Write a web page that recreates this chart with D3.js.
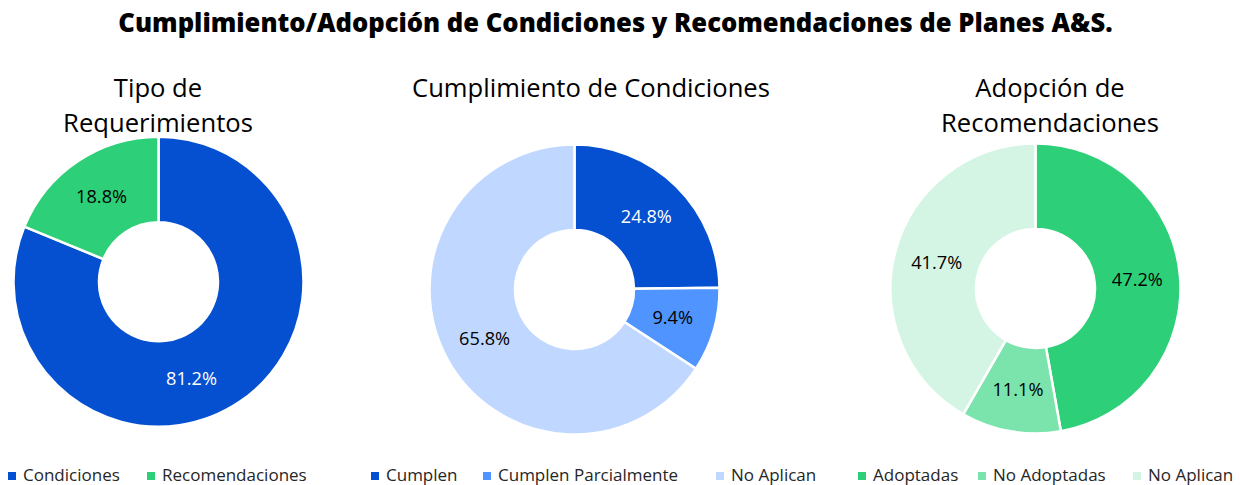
<!DOCTYPE html>
<html>
<head>
<meta charset="utf-8">
<script src="https://cdn.jsdelivr.net/npm/d3@7"></script>
<style>
  body { margin: 0; background: #fff; }
  svg { display: block; font-family: "Open Sans", "Noto Sans", sans-serif; }
</style>
</head>
<body>
<div id="chart"></div>
<script>
// ---- data ----
const mainTitle = "Cumplimiento/Adopción de Condiciones y Recomendaciones de Planes A&S.";

const tipoLabels = ["Condiciones", "Recomendaciones"];
const tipoValues = [81.2, 18.8];

const cumpLabels = ["Cumplen", "Cumplen Parcialmente", "No Aplican"];
const cumpValues = [24.8, 9.4, 65.8];

const adopLabels = ["Adoptadas", "No Adoptadas", "No Aplican"];
const adopValues = [47.2, 11.1, 41.7];

const W = 1240, H = 485;

const svg = d3.select("#chart").append("svg")
    .attr("width", W).attr("height", H);

// font size that makes a text as wide as in the reference
function fitSize(str, width, base, weight) {
    const t = svg.append("text").attr("font-size", base)
        .attr("font-weight", weight || 400).text(str);
    const len = t.node().getComputedTextLength();
    t.remove();
    return base * width / len;
}

svg.append("text")
    .attr("x", (118 + 1113) / 2).attr("y", 32)
    .attr("text-anchor", "middle")
    .attr("font-size", fitSize(mainTitle, 995, 22, 800))
    .attr("font-weight", 800)
    .attr("fill", "#000")
    .text(mainTitle);

const titleSize = fitSize("Cumplimiento de Condiciones", 358, 26);
const labelSize = fitSize("18.8%", 51, 17);
const legendSize = 17;

const panels = [
    {
        title: ["Tipo de", "Requerimientos"], titleX: 158,
        labels: tipoLabels, values: tipoValues,
        colors: ["#0450D0", "#2ECF79"],
        textColors: ["#fff", "#000"],
        nudge: [15, 0],
        cx: 158.5, cy: 281.7,
        legendX: [8, 147]
    },
    {
        title: ["Cumplimiento de Condiciones"], titleX: 591,
        labels: cumpLabels, values: cumpValues,
        colors: ["#0450D0", "#4F94FF", "#C0D8FF"],
        textColors: ["#fff", "#000", "#000"],
        nudge: [0, 0, 0],
        cx: 574.5, cy: 289.5,
        legendX: [371, 483, 716]
    },
    {
        title: ["Adopción de", "Recomendaciones"], titleX: 1050,
        labels: adopLabels, values: adopValues,
        colors: ["#2ECF79", "#7BE3AC", "#D5F5E4"],
        textColors: ["#000", "#000", "#000"],
        nudge: [0, 0, 0],
        cx: 1035.5, cy: 288.5,
        legendX: [858, 978, 1133]
    }
];

const rIn = 59.5, rOut = 145;
const arc = d3.arc().innerRadius(rIn).outerRadius(rOut);
const pie = d3.pie().sort(null).value(d => d);
const labelR = (rIn + rOut) / 2;

panels.forEach(p => {
    // title lines
    p.title.forEach((t, i) => {
        svg.append("text")
            .attr("x", p.titleX).attr("y", 97 + i * 35)
            .attr("text-anchor", "middle")
            .attr("font-size", titleSize).attr("fill", "#000")
            .text(t);
    });

    const g = svg.append("g").attr("transform", `translate(${p.cx},${p.cy})`);
    const arcs = pie(p.values);

    g.selectAll("path").data(arcs).join("path")
        .attr("d", arc)
        .attr("fill", (d, i) => p.colors[i])
        .attr("stroke", "#fff")
        .attr("stroke-width", 2.5);

    g.selectAll("text.lbl").data(arcs).join("text")
        .attr("class", "lbl")
        .attr("transform", (d, i) => {
            const a = (d.startAngle + d.endAngle) / 2 + p.nudge[i] * Math.PI / 180;
            return `translate(${labelR * Math.sin(a)},${-labelR * Math.cos(a)})`;
        })
        .attr("text-anchor", "middle")
        .attr("dy", "0.35em")
        .attr("font-size", labelSize)
        .attr("fill", (d, i) => p.textColors[i])
        .text(d => d.data.toFixed(1) + "%");

    // legend
    p.labels.forEach((lab, i) => {
        const x = p.legendX[i];
        svg.append("rect")
            .attr("x", x).attr("y", 472)
            .attr("width", 8).attr("height", 8)
            .attr("fill", p.colors[i]);
        svg.append("text")
            .attr("x", x + 15).attr("y", 480.5)
            .attr("font-size", legendSize).attr("fill", "#262626")
            .text(lab);
    });
});
</script>
</body>
</html>
